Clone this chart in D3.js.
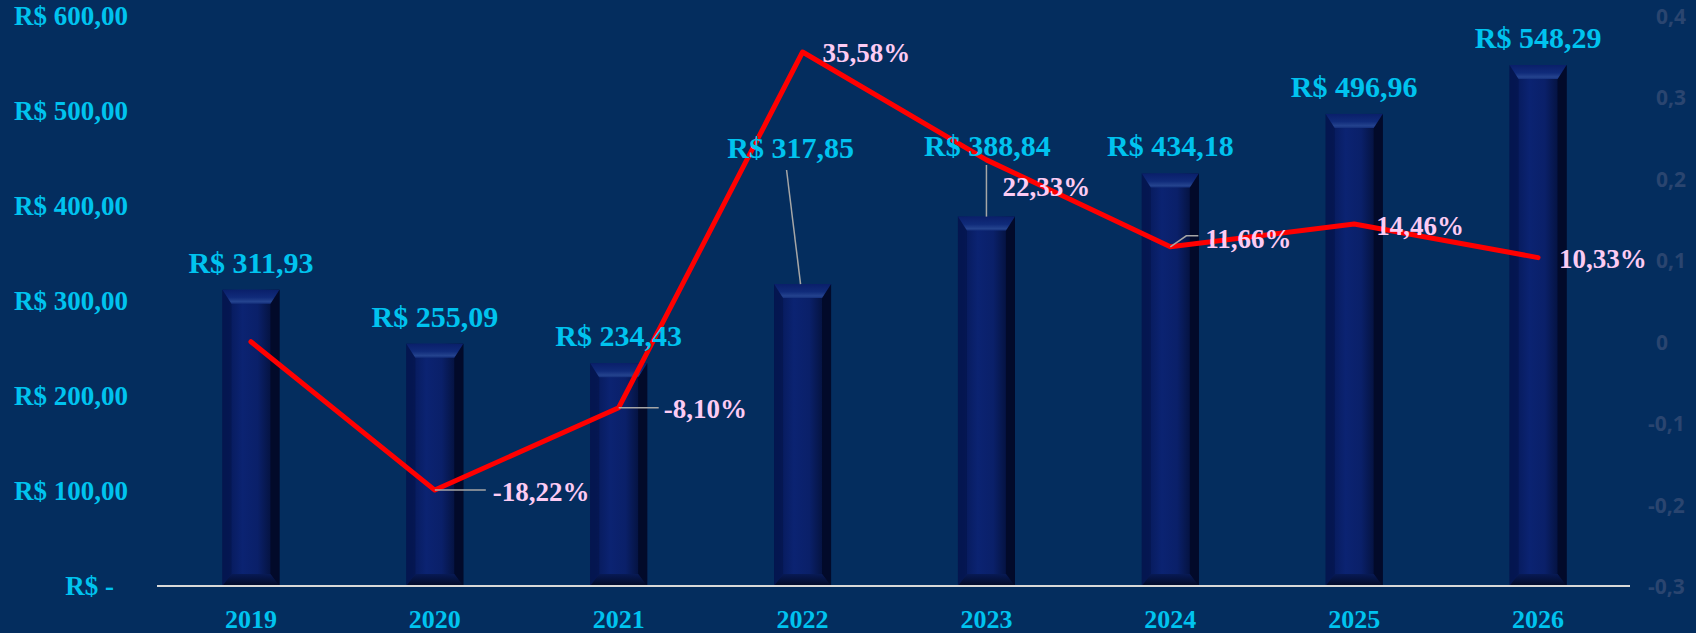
<!DOCTYPE html>
<html>
<head>
<meta charset="utf-8">
<script src="https://cdn.jsdelivr.net/npm/d3@7"></script>
<style>
  html, body { margin: 0; padding: 0; background: #042d5e; }
  svg { display: block; }
</style>
</head>
<body>
<svg id="chart" width="1696" height="633"></svg>
<script>
// ---- data ----
const years = ["2019", "2020", "2021", "2022", "2023", "2024", "2025", "2026"];
const prices = [311.93, 255.09, 234.43, 317.85, 388.84, 434.18, 496.96, 548.29];
const growth = [0, -0.1822, -0.0810, 0.3558, 0.2233, 0.1166, 0.1446, 0.1033];
const growthLabels = [null, "-18,22%", "-8,10%", "35,58%", "22,33%", "11,66%", "14,46%", "10,33%"];
const leftTicks = [0, 100, 200, 300, 400, 500, 600];
const rightTicks = [-0.3, -0.2, -0.1, 0, 0.1, 0.2, 0.3, 0.4];

// ---- layout ----
const W = 1696, H = 633;
const x0 = 159, x1 = 1630, yBase = 586, yTop = 16;
const svg = d3.select("#chart");
const bg = "#042d5e";
const cyan = "#00c3ef";
const pink = "#fccbf3";
const serif = "'Liberation Serif', 'Times New Roman', serif";

svg.append("rect").attr("width", W).attr("height", H).attr("fill", bg);

const x = d3.scaleBand().domain(years).range([x0, x1]).paddingInner(0.69).paddingOuter(0.345);
const yL = d3.scaleLinear().domain([0, 600]).range([yBase, yTop]);
const yR = d3.scaleLinear().domain([-0.3, 0.4]).range([yBase, yTop]);
const cx = d => x(d) + x.bandwidth() / 2;

const defs = svg.append("defs");
const gBody = defs.append("linearGradient").attr("id", "body").attr("x1", 0).attr("x2", 1).attr("y1", 0).attr("y2", 0);
[["0%", "#04154c"], ["18%", "#081d62"], ["35%", "#0b2372"], ["62%", "#0a2069"], ["80%", "#06164a"], ["100%", "#020a2c"]]
  .forEach(([o, c]) => gBody.append("stop").attr("offset", o).attr("stop-color", c));
const gTop = defs.append("linearGradient").attr("id", "topbev").attr("x1", 0).attr("x2", 0).attr("y1", 0).attr("y2", 1);
[["0%", "#0a1f6a"], ["55%", "#102b7a"], ["85%", "#24438e"], ["100%", "#15307c"]]
  .forEach(([o, c]) => gTop.append("stop").attr("offset", o).attr("stop-color", c));
const gBot = defs.append("linearGradient").attr("id", "botbev").attr("x1", 0).attr("x2", 0).attr("y1", 0).attr("y2", 1);
[["0%", "#081a55"], ["100%", "#020a26"]]
  .forEach(([o, c]) => gBot.append("stop").attr("offset", o).attr("stop-color", c));

// ---- bars ----
const bw = x.bandwidth();
const bT = 14, bS = 9, bB = 12;
const bars = svg.append("g").selectAll("g").data(years).join("g");
bars.each(function(d, i) {
  const g = d3.select(this);
  const l = x(d), r = x(d) + bw, t = yL(prices[i]), b = yL(0);
  g.append("rect").attr("x", l).attr("y", t).attr("width", bw).attr("height", b - t).attr("fill", "url(#body)");
  g.append("polygon").attr("points", [[l, t], [l + bS, t + bT], [l + bS, b - bB], [l, b]].join(" "))
    .attr("fill", "#051650").attr("opacity", 0.85);
  g.append("polygon").attr("points", [[r, t], [r - bS, t + bT], [r - bS, b - bB], [r, b]].join(" "))
    .attr("fill", "#020a2a");
  g.append("polygon").attr("points", [[l, t], [r, t], [r - bS, t + bT], [l + bS, t + bT]].join(" "))
    .attr("fill", "url(#topbev)");
  g.append("polygon").attr("points", [[l, b], [r, b], [r - bS, b - bB], [l + bS, b - bB]].join(" "))
    .attr("fill", "url(#botbev)");
});

// ---- baseline ----
svg.append("line").attr("x1", x0 - 2).attr("x2", x1).attr("y1", yBase).attr("y2", yBase)
  .attr("stroke", "#d9d9d9").attr("stroke-width", 2);

// ---- left axis ----
const fmtL = v => v === 0 ? "R$ -" : "R$ " + d3.format(".2f")(v).replace(".", ",");
const axL = svg.append("g").attr("transform", "translate(128,0)")
  .call(d3.axisLeft(yL).tickValues(leftTicks).tickFormat(fmtL).tickSize(0).tickPadding(0));
axL.select(".domain").remove();
axL.selectAll("text").attr("fill", cyan).attr("font-family", serif).attr("font-weight", "bold")
  .attr("font-size", 27).attr("dy", "0.33em")
  .attr("dx", d => d === 0 ? -14 : 0);

// ---- right axis ----
const fmtR = v => Math.abs(v) < 1e-9 ? "0" : d3.format(".1f")(v).replace(".", ",").replace("\u2212", "-");
const axR = svg.append("g").attr("transform", "translate(1656,0)")
  .call(d3.axisRight(yR).tickValues(rightTicks).tickFormat(fmtR).tickSize(0).tickPadding(0));
axR.select(".domain").remove();
axR.selectAll("text").attr("fill", "#2a4570").attr("font-family", "'Open Sans', 'Liberation Sans', sans-serif")
  .attr("font-weight", 700).attr("font-size", 21).attr("dy", "0.36em")
  .attr("dx", d => d < -1e-9 ? -8 : 0);

// ---- x axis ----
const axX = svg.append("g").attr("transform", `translate(0,${yBase})`)
  .call(d3.axisBottom(x).tickSize(0).tickPadding(0));
axX.select(".domain").remove();
axX.selectAll("text").attr("fill", cyan).attr("font-family", serif).attr("font-weight", "bold")
  .attr("font-size", 26).attr("y", 33).attr("dy", "0.33em");

// ---- leader lines for value labels ----
const leaderColor = "#a6a6a6";
const priceLabelPos = years.map((d, i) => ({ x: cx(d), y: yL(prices[i]) - 27 }));
priceLabelPos[3] = { x: cx(years[3]) - 12, y: 148 };
priceLabelPos[4] = { x: cx(years[4]) + 1, y: 146 };
svg.append("line").attr("x1", cx(years[3]) - 2).attr("y1", yL(prices[3])).attr("x2", priceLabelPos[3].x - 4).attr("y2", 170)
  .attr("stroke", leaderColor).attr("stroke-width", 1.5);
svg.append("line").attr("x1", cx(years[4])).attr("y1", yL(prices[4])).attr("x2", cx(years[4])).attr("y2", 165)
  .attr("stroke", leaderColor).attr("stroke-width", 1.5);

// ---- growth line ----
const line = d3.line().x((d, i) => cx(years[i])).y(d => yR(d));
svg.append("path").datum(growth).attr("d", line).attr("fill", "none")
  .attr("stroke", "#ff0000").attr("stroke-width", 5).attr("stroke-linejoin", "round").attr("stroke-linecap", "round");

// ---- growth leaders ----
const px = i => cx(years[i]), py = i => yR(growth[i]);
svg.append("polyline").attr("points", [[px(1), py(1)], [px(1) + 51, py(1)]].join(" "))
  .attr("fill", "none").attr("stroke", leaderColor).attr("stroke-width", 1.5);
svg.append("polyline").attr("points", [[px(2), py(2)], [px(2) + 40, py(2)]].join(" "))
  .attr("fill", "none").attr("stroke", leaderColor).attr("stroke-width", 1.5);
svg.append("polyline").attr("points", [[px(5), py(5)], [px(5) + 16, py(5) - 11], [px(5) + 28, py(5) - 11]].join(" "))
  .attr("fill", "none").attr("stroke", leaderColor).attr("stroke-width", 1.5);

// ---- value labels ----
svg.append("g").selectAll("text").data(years).join("text")
  .attr("x", (d, i) => priceLabelPos[i].x).attr("y", (d, i) => priceLabelPos[i].y).attr("dy", "0.33em")
  .attr("text-anchor", "middle").attr("fill", cyan).attr("font-family", serif).attr("font-weight", "bold")
  .attr("font-size", 30)
  .text((d, i) => "R$ " + d3.format(".2f")(prices[i]).replace(".", ","));

// ---- growth labels ----
const gOff = [null, [58, 2], [45, 1], [20, 1], [16, 27], [35, -8], [22, 2], [21, 1]];
svg.append("g").selectAll("text").data(years.filter((d, i) => growthLabels[i])).join("text")
  .each(function(d) {
    const i = years.indexOf(d);
    d3.select(this).attr("x", px(i) + gOff[i][0]).attr("y", py(i) + gOff[i][1]);
  })
  .attr("dy", "0.33em").attr("fill", pink).attr("font-family", serif).attr("font-weight", "bold")
  .attr("font-size", 27)
  .text(d => growthLabels[years.indexOf(d)]);
</script>
</body>
</html>
